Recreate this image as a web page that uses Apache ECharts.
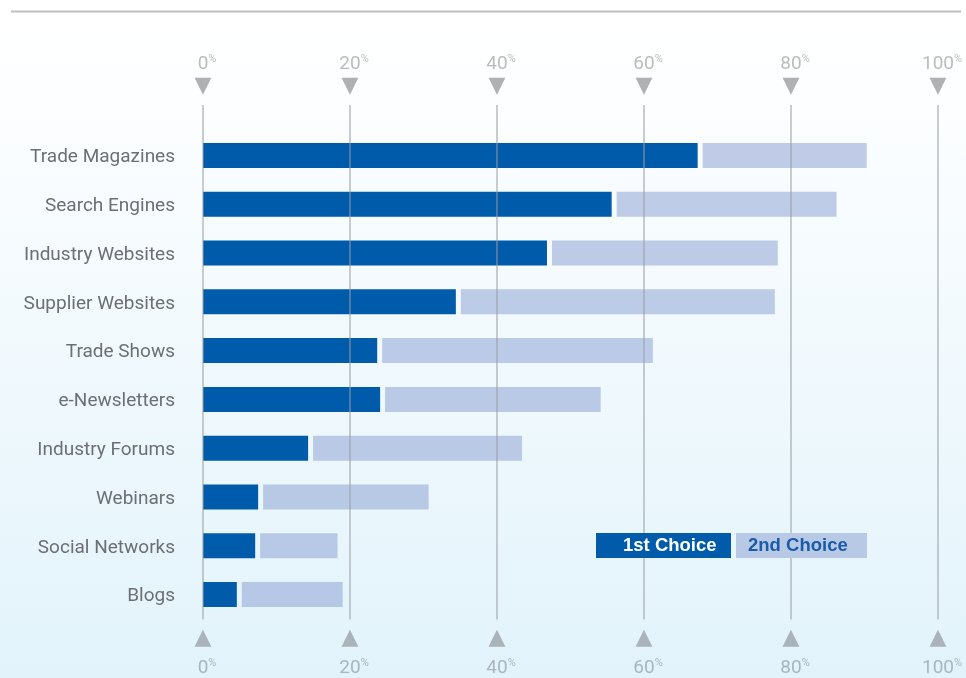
<!DOCTYPE html>
<html><head><meta charset="utf-8">
<script src="https://cdn.jsdelivr.net/npm/echarts@6/dist/echarts.min.js"></script>
<style>html,body{margin:0;padding:0;background:#fff;} #c{width:966px;height:678px;}</style>
</head><body><div id="c"></div>
<script>
const categories = ['Trade Magazines','Search Engines','Industry Websites','Supplier Websites','Trade Shows','e-Newsletters','Industry Forums','Webinars','Social Networks','Blogs'];
const firstChoice = [67.3, 55.6, 46.8, 34.4, 23.7, 24.1, 14.3, 7.5, 7.1, 4.6];
const secondChoice = [23.0, 30.6, 31.4, 43.4, 37.5, 30.0, 29.1, 23.2, 11.2, 14.4];
const tickValues = [0, 20, 40, 60, 80, 100];
const tickLabels = ['0', '20', '40', '60', '80', '100'];
const legendNames = ['1st Choice', '2nd Choice'];

const DARK = '#005baa';
const LIGHT = 'rgba(133,155,207,0.5)';
const chart = echarts.init(document.getElementById('c'), null, {renderer: 'canvas'});
const barData = categories.map((c, i) => [i, firstChoice[i], secondChoice[i]]);

function renderItem(params, api) {
  const cat = api.value(0), v1 = api.value(1), v2 = api.value(2);
  const p0 = api.coord([0, cat]);
  const p1 = api.coord([v1, cat]);
  const p2 = api.coord([v1 + v2, cat]);
  const h = 25, gap = 5;
  return {type: 'group', children: [
    {type: 'rect', shape: {x: p0[0], y: p0[1] - h / 2, width: p1[0] - p0[0], height: h},
      style: {fill: DARK}},
    {type: 'rect', shape: {x: p1[0] + gap, y: p0[1] - h / 2, width: p2[0] - p1[0] - gap, height: h},
      style: {fill: LIGHT}}
  ]};
}

const numFont = {fontFamily: 'Roboto', fontSize: 19, lineHeight: 22};
const pctFont = {fontFamily: 'Roboto', fontSize: 11, lineHeight: 14, verticalAlign: 'top'};
function lab(v) { return tickLabels[tickValues.indexOf(v)]; }

chart.setOption({
  backgroundColor: {type: 'linear', x: 0, y: 0, x2: 0, y2: 1,
    colorStops: [{offset: 0, color: '#ffffff'}, {offset: 0.12, color: '#fdfeff'}, {offset: 1, color: '#e2f3fb'}]},
  animation: false,
  grid: [
    {left: 203, right: 28, top: 131, bottom: 59},
    {left: 203, right: 28, top: 105, bottom: 49}
  ],
  xAxis: [
    {gridIndex: 0, type: 'value', min: 0, max: 100, interval: 20, show: false},
    {gridIndex: 1, type: 'value', position: 'top', min: 0, max: 100, interval: 20, z: 5,
      axisLine: {show: false}, axisTick: {show: false},
      splitLine: {show: true, lineStyle: {color: 'rgba(150,156,162,0.5)', width: 2}},
      axisLabel: {margin: 7.5, fontSize: 19, formatter: v => '{h|%}{n|' + lab(v) + '}{p|%}\n{t|▼}',
        rich: {
          n: Object.assign({color: '#bcbcbc'}, numFont),
          p: Object.assign({color: '#bcbcbc'}, pctFont),
          h: Object.assign({color: 'transparent'}, pctFont),
          t: {color: '#b0b1b4', fontSize: 22, lineHeight: 22, fontFamily: 'DejaVu Sans'}
        }}},
    {gridIndex: 1, type: 'value', position: 'bottom', min: 0, max: 100, interval: 20, z: 5,
      axisLine: {show: false}, axisTick: {show: false}, splitLine: {show: false},
      axisLabel: {margin: 0, fontSize: 19, formatter: v => '{t|▲}\n{h|%}{n|' + lab(v) + '}{p|%}',
        rich: {
          n: Object.assign({color: '#a9b6bf'}, numFont),
          p: Object.assign({color: '#a9b6bf'}, pctFont),
          h: Object.assign({color: 'transparent'}, pctFont),
          t: {color: '#a9b3b9', fontSize: 22, lineHeight: 38, fontFamily: 'DejaVu Sans'}
        }}}
  ],
  yAxis: [
    {gridIndex: 0, type: 'category', data: categories, inverse: true,
      axisLine: {show: false}, axisTick: {show: false}, splitLine: {show: false},
      axisLabel: {margin: 28, formatter: v => '{a|' + v + '}',
        rich: {a: {color: '#6c6f74', fontSize: 19, fontFamily: 'Roboto', lineHeight: 22, padding: [4, 0, 0, 0]}}}},
    {gridIndex: 1, type: 'value', show: false}
  ],
  series: [{
    type: 'custom', name: 'choices', xAxisIndex: 0, yAxisIndex: 0, z: 2,
    renderItem: renderItem, encode: {x: [1, 2], y: 0}, data: barData
  }],
  graphic: [
    {type: 'line', z: 20, shape: {x1: 11, y1: 11.5, x2: 961, y2: 11.5}, style: {stroke: '#bfbfbf', lineWidth: 2}},
    {type: 'rect', z: 20, shape: {x: 596, y: 533, width: 135, height: 25}, style: {fill: DARK}},
    {type: 'rect', z: 20, shape: {x: 736, y: 533, width: 131, height: 25}, style: {fill: '#b8c9e6'}},
    {type: 'text', z: 21, x: 623, y: 546, style: {text: legendNames[0], fill: '#ffffff', font: 'bold 18.5px "Liberation Sans", Arial', verticalAlign: 'middle'}},
    {type: 'text', z: 21, x: 748, y: 546, style: {text: legendNames[1], fill: '#1a5ca8', font: 'bold 18.5px "Liberation Sans", Arial', verticalAlign: 'middle'}}
  ]
});
</script></body></html>
